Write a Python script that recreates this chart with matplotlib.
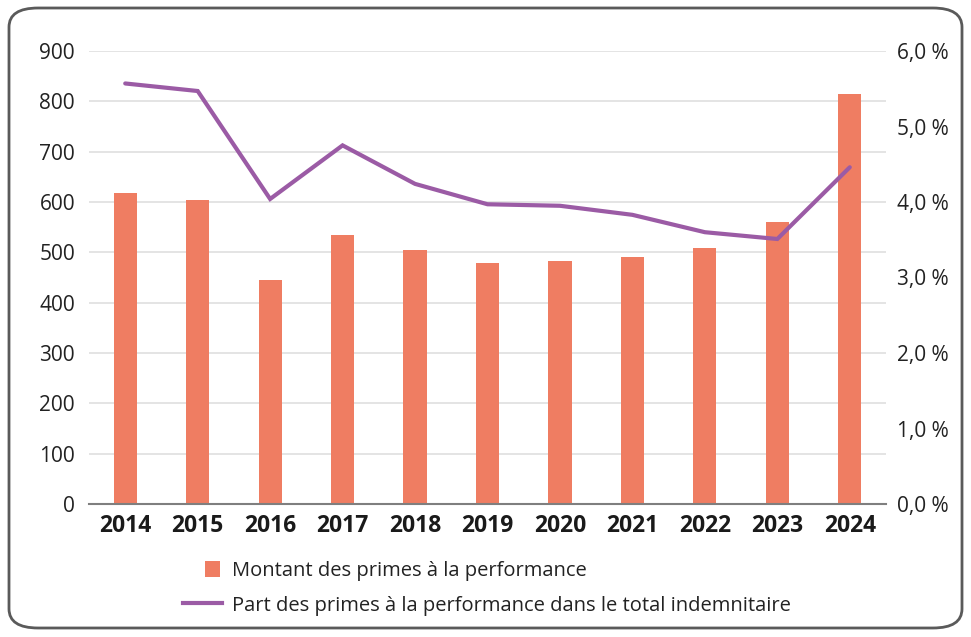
import matplotlib
matplotlib.use("Agg")
import matplotlib.pyplot as plt
from matplotlib.patches import FancyBboxPatch, Rectangle, Patch
from matplotlib.lines import Line2D
from matplotlib.legend_handler import HandlerBase
from matplotlib.ticker import FuncFormatter

years = ["2014", "2015", "2016", "2017", "2018", "2019", "2020", "2021", "2022", "2023", "2024"]
montant = [618, 603, 446, 535, 505, 479, 483, 491, 509, 560, 815]
part = [5.57, 5.47, 4.04, 4.75, 4.24, 3.97, 3.95, 3.83, 3.60, 3.51, 4.46]
left_ticks = [0, 100, 200, 300, 400, 500, 600, 700, 800, 900]
right_ticks = [0, 1, 2, 3, 4, 5, 6]

plt.rcParams['font.family'] = ['Open Sans', 'DejaVu Sans']
bar_color = "#EF7D62"
line_color = "#9B5BA5"


class SquareRight(HandlerBase):
    def create_artists(self, legend, orig_handle, xdescent, ydescent, width, height, fontsize, trans):
        s = height * 1.1
        r = Rectangle((width - s - 0.05 * width - xdescent, (height - s) / 2 - ydescent), s, s,
                      facecolor=orig_handle.get_facecolor(), edgecolor="none", transform=trans)
        return [r]


fig = plt.figure(figsize=(9.71, 6.37), dpi=100)
ax = fig.add_axes([89/971, 1-504/637, (886-89)/971, (504-51)/637])

x = list(range(len(years)))
ax.bar(x, montant, width=0.32, color=bar_color, zorder=2)
ax.set_ylim(0, 900)
ax.set_xlim(-0.5, 10.5)
ax.set_yticks(left_ticks)
ax.yaxis.grid(True, color="#e2e2e2", linewidth=1.3, zorder=0)
ax.set_axisbelow(True)
for s in ["top", "right", "left"]:
    ax.spines[s].set_visible(False)
ax.spines["bottom"].set_color("#7f7f7f")
ax.spines["bottom"].set_linewidth(1.5)
ax.set_xticks(x)
ax.set_xticklabels(years, fontsize=16.5, fontweight="bold", color="#1a1a1a")
ax.tick_params(axis="x", length=0, pad=7)
ax.tick_params(axis="y", length=0, labelsize=15, colors="#222222", pad=10)

ax2 = ax.twinx()
ax2.plot(x, part, color=line_color, linewidth=3.0, solid_capstyle="round", solid_joinstyle="miter", zorder=3)
ax2.set_ylim(0, 6)
ax2.set_yticks(right_ticks)
ax2.yaxis.set_major_formatter(FuncFormatter(lambda v, p: f"{v:.1f}".replace(".", ",") + "\u00a0%"))
ax2.tick_params(axis="y", length=0, labelsize=15, colors="#222222", pad=8)
for s in ["top", "right", "left", "bottom"]:
    ax2.spines[s].set_visible(False)

bar_handle = Patch(facecolor=bar_color)
handles = [bar_handle, Line2D([], [], color=line_color, linewidth=3.0)]
labels = ["Montant des primes à la performance",
          "Part des primes à la performance dans le total indemnitaire"]
fig.legend(handles, labels, loc="upper left", bbox_to_anchor=(183/971, 1-561/637),
           frameon=False, fontsize=14.5, handlelength=1.95, handletextpad=0.5, labelspacing=0.72,
           borderpad=0, borderaxespad=0, labelcolor="#222222",
           handler_map={bar_handle: SquareRight()})

box = FancyBboxPatch((9/971, 9/637), 953/971, 620/637, boxstyle="round,pad=0,rounding_size=0.03",
                     transform=fig.transFigure, fill=False, edgecolor="#5a5a5a", linewidth=2, zorder=0)
fig.patches.append(box)

fig.savefig("out.png", dpi=100)
